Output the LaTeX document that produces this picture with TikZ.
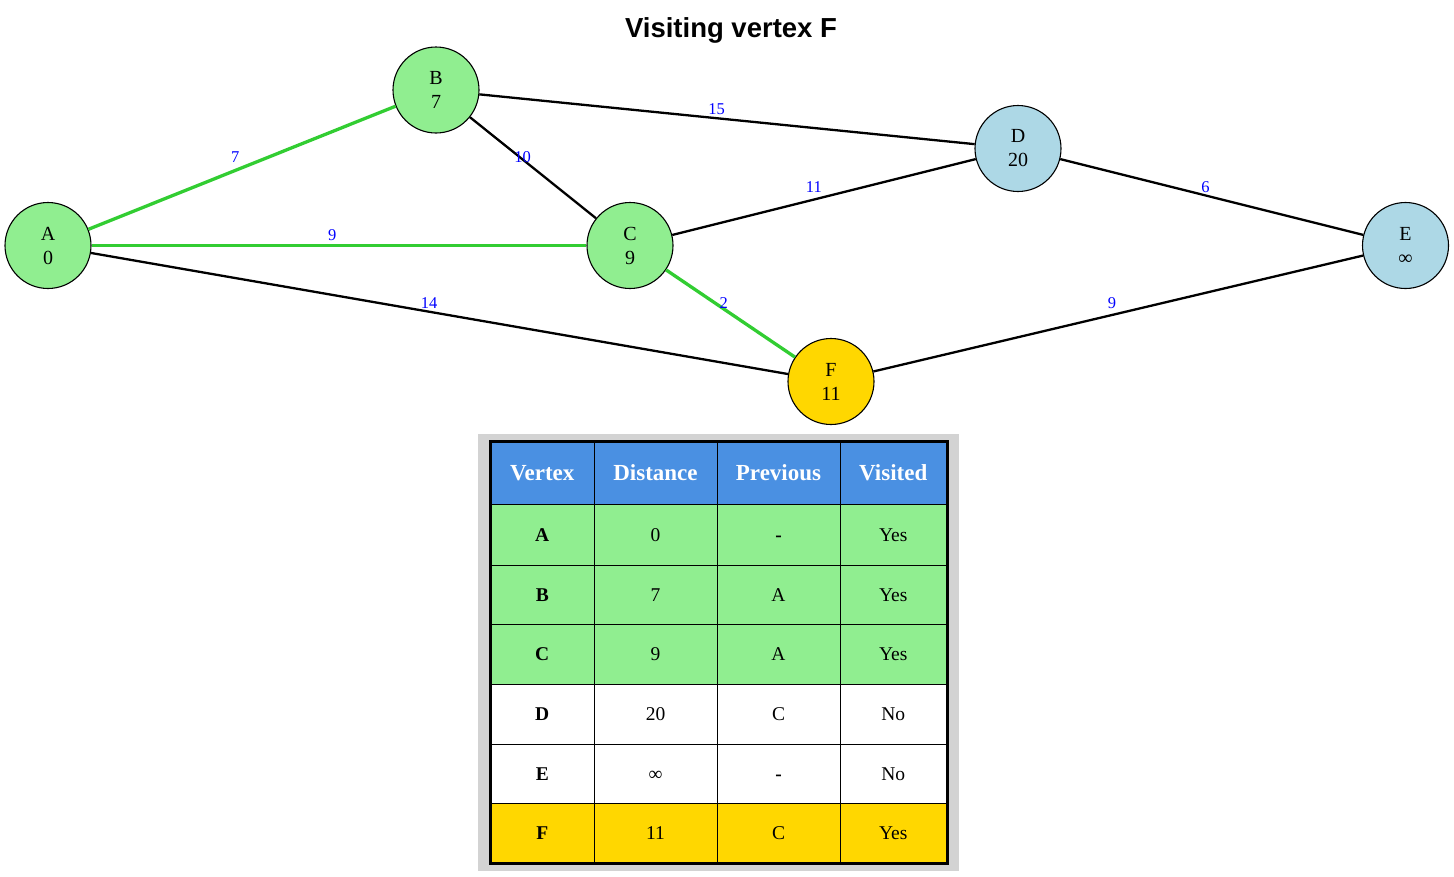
\documentclass[tikz,border=0pt]{standalone}
\usepackage{fontspec}
\setmainfont{Liberation Serif}
\newfontfamily\titlefont{Liberation Sans}
\definecolor{nodegreen}{HTML}{90EE90}
\definecolor{nodeblue}{HTML}{ADD8E6}
\definecolor{nodegold}{HTML}{FFD700}
\definecolor{pathgreen}{HTML}{32CD32}
\definecolor{headblue}{HTML}{4A90E2}
\definecolor{framegray}{HTML}{D3D3D3}
\begin{document}
\begin{tikzpicture}[x=1pt,y=-1pt,
  vtx/.style={circle, draw=black, line width=1.1pt, minimum size=86pt, inner sep=0pt, align=center, font=\fontsize{20}{24}\selectfont},
  edge/.style={line width=2.3pt, black},
  tree/.style={line width=3.3pt, pathgreen},
  wlab/.style={midway, anchor=south east, inner sep=0pt, xshift=-1pt, yshift=3.5pt, text=blue, font=\fontsize{16.5}{18}\selectfont},
  cell/.style={draw=black, line width=1pt, inner sep=0pt, text height=13pt, text depth=0pt, font=\fontsize{19.5}{22}\selectfont},
  ]
\useasboundingbox (0,0) rectangle (1454,876);

\node[font=\titlefont\bfseries\fontsize{27.5}{30}\selectfont, anchor=base] (title) at (731,37.7) {Visiting vertex F};

\node[vtx, fill=nodegreen] (A) at (48,245.5) {A\\0};
\node[vtx, fill=nodegreen] (B) at (436,90) {B\\7};
\node[vtx, fill=nodegreen] (C) at (630,245.5) {C\\9};
\node[vtx, fill=nodeblue] (D) at (1018,148.5) {D\\20};
\node[vtx, fill=nodeblue] (E) at (1405.5,245.5) {E\\∞};
\node[vtx, fill=nodegold] (F) at (831,381.5) {F\\11};

\draw[tree] (A) -- node[wlab]{7} (B);
\draw[tree] (A) -- node[wlab]{9} (C);
\draw[edge] (A) -- node[wlab]{14} (F);
\draw[edge] (B) -- node[wlab]{10} (C);
\draw[edge] (B) -- node[wlab]{15} (D);
\draw[edge] (C) -- node[wlab]{11} (D);
\draw[tree] (C) -- node[wlab]{2} (F);
\draw[edge] (D) -- node[wlab]{6} (E);
\draw[edge] (F) -- node[wlab]{9} (E);

\fill[framegray] (478,434) rectangle (959,871);
\foreach \cx/\w/\t/\n in {542.25/103.5/Vertex/1, 655.5/123/Distance/2, 778.5/123/Previous/3, 893.25/106.5/Visited/4}
  \node[cell, fill=headblue, text=white, text height=15.5pt, font=\bfseries\fontsize{23}{26}\selectfont, minimum width=\w pt, minimum height=62pt] (h\n) at (\cx,473) {\t};

\foreach \r/\cy/\h/\fc/\va/\vb/\vc/\vd in {A/534.5/61/nodegreen/A/0/\textbf{-}/Yes, B/594.5/59/nodegreen/B/7/A/Yes, C/654/60/nodegreen/C/9/A/Yes, D/714/60/white/D/20/C/No, E/773.5/59/white/E/∞/\textbf{-}/No, F/833/60/nodegold/F/11/C/Yes}
{
  \node[cell, fill=\fc, minimum width=103.5pt, minimum height=\h pt, font=\bfseries\fontsize{19.5}{22}\selectfont] (t\r1) at (542.25,\cy) {\va};
  \node[cell, fill=\fc, minimum width=123pt, minimum height=\h pt] (t\r2) at (655.5,\cy) {\vb};
  \node[cell, fill=\fc, minimum width=123pt, minimum height=\h pt] (t\r3) at (778.5,\cy) {\vc};
  \node[cell, fill=\fc, minimum width=106.5pt, minimum height=\h pt] (t\r4) at (893.25,\cy) {\vd};
}
\draw[line width=3pt] (h1.north west) rectangle (tF4.south east);
\end{tikzpicture}
\end{document}
